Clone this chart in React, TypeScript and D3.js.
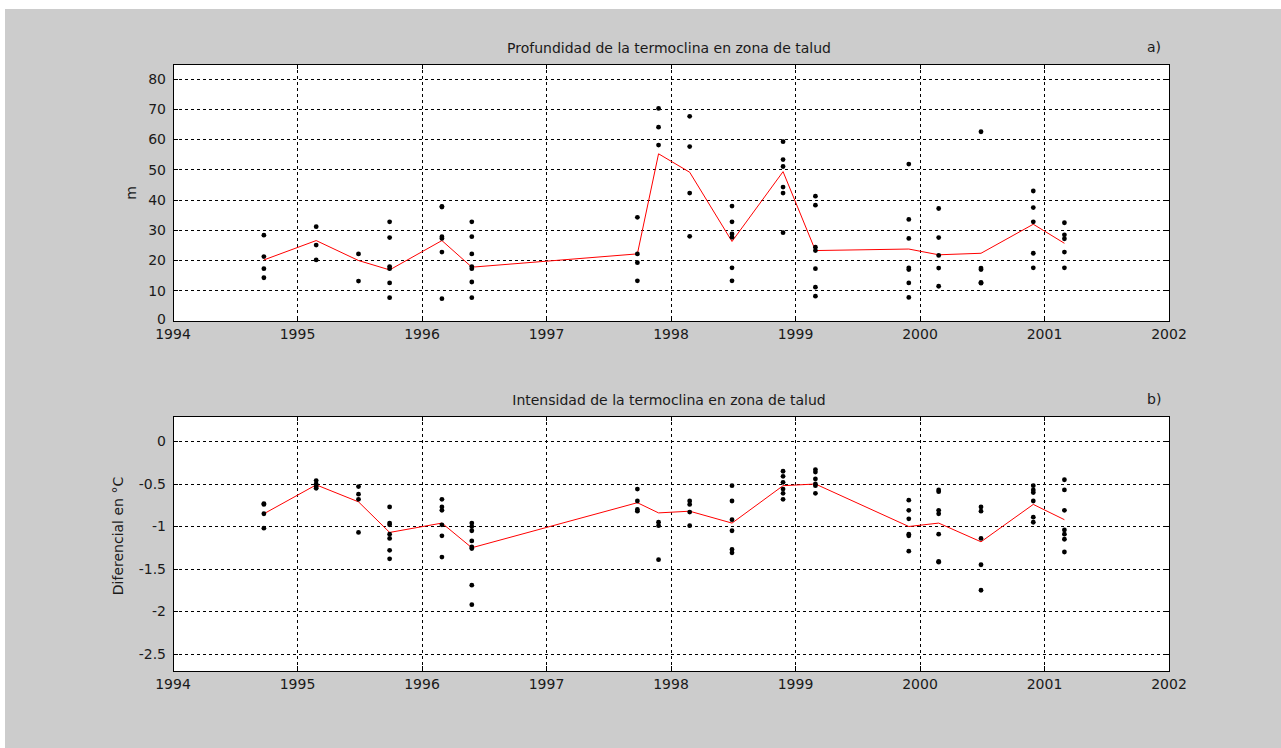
import React, { useMemo } from "react";
import * as d3 from "d3";

// sampling dates (decimal years)
const dates = [
  1994.73, 1995.15, 1995.49, 1995.74, 1996.16, 1996.4, 1997.73, 1997.9, 1998.15,
  1998.49, 1998.9, 1999.16, 1999.91, 2000.15, 2000.49, 2000.91, 2001.16,
];

// a) depth of the thermocline (m), one list per cruise
const depthPoints = [
  [28.4, 21.3, 17.3, 14.3],
  [31.2, 25.1, 20.2],
  [22.2, 13.2],
  [32.8, 27.6, 18.0, 17.3, 12.6, 7.7],
  [37.7, 37.9, 27.9, 27.3, 22.8, 7.4],
  [32.8, 27.9, 22.2, 18.0, 17.3, 12.9, 7.7],
  [34.3, 22.2, 19.3, 13.3],
  [70.3, 64.1, 58.2],
  [67.7, 57.7, 42.3, 28.0],
  [38.0, 32.8, 28.8, 27.7, 17.6, 13.3],
  [59.3, 53.4, 51.1, 44.3, 42.3, 29.2],
  [41.3, 38.3, 24.4, 23.3, 17.3, 11.2, 8.2],
  [51.9, 33.6, 27.3, 17.6, 17.0, 12.6, 7.8],
  [37.2, 27.6, 21.7, 17.5, 11.5],
  [62.6, 17.5, 17.0, 12.8, 12.5],
  [43.0, 37.5, 32.8, 22.4, 17.6],
  [32.5, 28.5, 27.2, 22.8, 17.6],
];
const depthMean = [
  20.2, 26.6, 20.0, 16.9, 26.6, 17.8, 22.2, 55.3, 49.2, 26.3, 49.4, 23.3, 23.8,
  21.9, 22.4, 32.0, 25.7,
];

// b) intensity (temperature differential, °C)
const intensityPoints = [
  [-0.73, -0.74, -0.85, -1.02],
  [-0.46, -0.5, -0.53, -0.55],
  [-0.53, -0.62, -0.68, -1.07],
  [-0.77, -0.96, -0.98, -1.09, -1.14, -1.28, -1.38],
  [-0.68, -0.77, -0.81, -0.98, -1.11, -1.36],
  [-0.96, -1.0, -1.05, -1.17, -1.24, -1.26, -1.69, -1.92],
  [-0.56, -0.7, -0.8, -0.82],
  [-0.95, -0.99, -1.39],
  [-0.7, -0.74, -0.83, -0.99],
  [-0.52, -0.7, -0.92, -1.05, -1.27, -1.31],
  [-0.35, -0.41, -0.48, -0.56, -0.61, -0.68],
  [-0.33, -0.36, -0.44, -0.5, -0.52, -0.61],
  [-0.69, -0.81, -0.91, -1.09, -1.11, -1.29],
  [-0.57, -0.59, -0.81, -0.85, -1.09, -1.41, -1.42],
  [-0.77, -0.82, -1.14, -1.45, -1.75],
  [-0.52, -0.57, -0.6, -0.7, -0.89, -0.95],
  [-0.45, -0.57, -0.81, -1.04, -1.09, -1.15, -1.3],
];
const intensityMean = [
  -0.85, -0.51, -0.71, -1.07, -0.96, -1.25, -0.72, -0.84, -0.82, -0.96, -0.52,
  -0.5, -1.0, -0.96, -1.18, -0.74, -0.92,
];

const yearTicks = [1994, 1995, 1996, 1997, 1998, 1999, 2000, 2001, 2002];
const depthTicks = [0, 10, 20, 30, 40, 50, 60, 70, 80];
const intensityTicks = [0, -0.5, -1, -1.5, -2, -2.5];

const WIDTH = 1281;
const HEIGHT = 748;
const LEFT = 173;
const RIGHT = 1169;
const FONT = "'DejaVu Sans', sans-serif";
const TEXT = "#1a1a1a";

type PanelProps = {
  top: number;
  bottom: number;
  yDomain: [number, number];
  yTicks: number[];
  title: string;
  tag: string;
  ylabel: string;
  ylabelX: number;
  ylabelY: number;
  points: number[][];
  mean: number[];
};

const Panel = ({
  top,
  bottom,
  yDomain,
  yTicks,
  title,
  tag,
  ylabel,
  ylabelX,
  ylabelY,
  points,
  mean,
}: PanelProps) => {
  const xScale = useMemo(
    () => d3.scaleLinear().domain([1994, 2002]).range([LEFT, RIGHT]),
    []
  );
  const yScale = useMemo(
    () => d3.scaleLinear().domain(yDomain).range([bottom, top]),
    [yDomain, top, bottom]
  );

  const line = d3
    .line<number>()
    .x((_, i) => xScale(dates[i]))
    .y((d) => yScale(d));

  const tickLen = 5;

  return (
    <g>
      <rect
        x={LEFT}
        y={top}
        width={RIGHT - LEFT}
        height={bottom - top}
        fill="#ffffff"
      />
      {/* grid */}
      {yearTicks.slice(1, -1).map((t) => (
        <line
          key={"gx" + t}
          x1={xScale(t)}
          x2={xScale(t)}
          y1={top}
          y2={bottom}
          stroke="#000"
          strokeDasharray="3,3"
          shapeRendering="crispEdges"
        />
      ))}
      {yTicks.map((t) => (
        <line
          key={"gy" + t}
          x1={LEFT}
          x2={RIGHT}
          y1={yScale(t)}
          y2={yScale(t)}
          stroke="#000"
          strokeDasharray="3,3"
          shapeRendering="crispEdges"
        />
      ))}
      {/* tick marks, inside on all sides */}
      {yearTicks.map((t) => (
        <g key={"tx" + t}>
          <line x1={xScale(t)} x2={xScale(t)} y1={bottom} y2={bottom - tickLen} stroke="#000" shapeRendering="crispEdges" />
          <line x1={xScale(t)} x2={xScale(t)} y1={top} y2={top + tickLen} stroke="#000" shapeRendering="crispEdges" />
        </g>
      ))}
      {yTicks.map((t) => (
        <g key={"ty" + t}>
          <line x1={LEFT} x2={LEFT + tickLen} y1={yScale(t)} y2={yScale(t)} stroke="#000" shapeRendering="crispEdges" />
          <line x1={RIGHT} x2={RIGHT - tickLen} y1={yScale(t)} y2={yScale(t)} stroke="#000" shapeRendering="crispEdges" />
        </g>
      ))}
      {/* data */}
      <path d={line(mean) ?? ""} fill="none" stroke="#ff0000" strokeWidth={1} />
      {points.map((vals, i) =>
        vals.map((v, j) => (
          <circle
            key={i + "-" + j}
            cx={xScale(dates[i])}
            cy={yScale(v)}
            r={2.4}
            fill="#000"
          />
        ))
      )}
      {/* frame */}
      <rect
        x={LEFT}
        y={top}
        width={RIGHT - LEFT}
        height={bottom - top}
        fill="none"
        stroke="#000"
        shapeRendering="crispEdges"
      />
      {/* labels */}
      {yearTicks.map((t) => (
        <text
          key={"lx" + t}
          x={xScale(t)}
          y={bottom + 18}
          textAnchor="middle"
          fontFamily={FONT}
          fontSize={14}
          fill={TEXT}
        >
          {t}
        </text>
      ))}
      {yTicks.map((t) => (
        <text
          key={"ly" + t}
          x={LEFT - 7}
          y={yScale(t)}
          dy={t === yDomain[0] || (t === 0 && yDomain[0] === 0) ? "0.2em" : "0.35em"}
          textAnchor="end"
          fontFamily={FONT}
          fontSize={14}
          fill={TEXT}
        >
          {String(t)}
        </text>
      ))}
      <text
        x={669}
        y={top - 11}
        textAnchor="middle"
        fontFamily={FONT}
        fontSize={14}
        fill={TEXT}
      >
        {title}
      </text>
      <text x={1147} y={top - 12} fontFamily={FONT} fontSize={14} fill={TEXT}>
        {tag}
      </text>
      <text
        transform={`translate(${ylabelX},${ylabelY}) rotate(-90)`}
        textAnchor="middle"
        fontFamily={FONT}
        fontSize={14}
        fill={TEXT}
      >
        {ylabel}
      </text>
    </g>
  );
};

export default function App() {
  return (
    <svg
      width={WIDTH}
      height={HEIGHT}
      style={{ position: "absolute", left: 0, top: 0 }}
    >
      <rect x={0} y={0} width={WIDTH} height={HEIGHT} fill="#ffffff" />
      <rect x={5} y={9} width={WIDTH - 5} height={HEIGHT - 9} fill="#cccccc" />
      <Panel
        top={64}
        bottom={321}
        yDomain={[0, 85]}
        yTicks={depthTicks}
        title="Profundidad de la termoclina en zona de talud"
        tag="a)"
        ylabel="m"
        ylabelX={136}
        ylabelY={193}
        points={depthPoints}
        mean={depthMean}
      />
      <Panel
        top={416}
        bottom={671}
        yDomain={[-2.7, 0.3]}
        yTicks={intensityTicks}
        title="Intensidad de la termoclina en zona de talud"
        tag="b)"
        ylabel="Diferencial en °C"
        ylabelX={123}
        ylabelY={536}
        points={intensityPoints}
        mean={intensityMean}
      />
    </svg>
  );
}
